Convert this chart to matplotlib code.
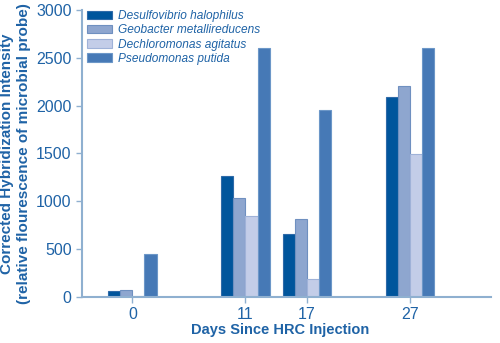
import matplotlib.pyplot as plt
import numpy as np

plt.rcParams['font.family'] = ['Liberation Sans', 'DejaVu Sans']

days = [0, 11, 17, 27]
species = ['Desulfovibrio halophilus', 'Geobacter metallireducens',
           'Dechloromonas agitatus', 'Pseudomonas putida']
desulfovibrio = [60, 1270, 660, 2090]
geobacter = [70, 1030, 820, 2210]
dechloromonas = [10, 850, 190, 1490]
pseudomonas = [450, 2600, 1950, 2600]

series = [desulfovibrio, geobacter, dechloromonas, pseudomonas]
colors = ['#00559c', '#8ea6cf', '#c3cde8', '#4679b6']
edges = ['#2f6aa8', '#6f90c0', '#9fb2d8', '#6c97c8']
text_color = '#1f63a6'
axis_color = '#8fb0d0'

fig = plt.figure(figsize=(5.0, 3.43), dpi=100)
ax = fig.add_axes([0.164, 0.134, 0.818, 0.837])

width = 1.18
x = np.array(days, dtype=float)
for i, vals in enumerate(series):
    offs = (i - 1.5) * width
    ax.bar(x + offs, vals, width, color=colors[i], edgecolor=edges[i],
           linewidth=0.8, label=species[i], zorder=2)

ax.set_xlim(-4.9, 34.9)
ax.set_ylim(0, 3000)
ax.set_xticks(days)
ax.set_yticks([0, 500, 1000, 1500, 2000, 2500, 3000])
ax.tick_params(colors=axis_color, labelcolor=text_color, labelsize=11.5,
               length=4, width=1)
for s in ['top', 'right']:
    ax.spines[s].set_visible(False)
for s in ['left', 'bottom']:
    ax.spines[s].set_color(axis_color)
    ax.spines[s].set_linewidth(1.5)

ax.set_xlabel('Days Since HRC Injection', color=text_color, fontsize=10.5,
              fontweight='bold', labelpad=2)
ax.xaxis.set_label_coords(0.485, -0.09)
ax.set_ylabel('Corrected Hybridization Intensity\n(relative flourescence of microbial probe)',
              color=text_color, fontsize=11, fontweight='bold', labelpad=4)

leg = ax.legend(loc='upper left', bbox_to_anchor=(0.174, 0.970),
                bbox_transform=fig.transFigure, frameon=False,
                borderpad=0, borderaxespad=0,
                handlelength=2.1, handleheight=0.7, handletextpad=0.5,
                labelspacing=0.18, fontsize=8.6)
for t in leg.get_texts():
    t.set_color(text_color)
    t.set_style('italic')

fig.savefig('out.png', dpi=100)
